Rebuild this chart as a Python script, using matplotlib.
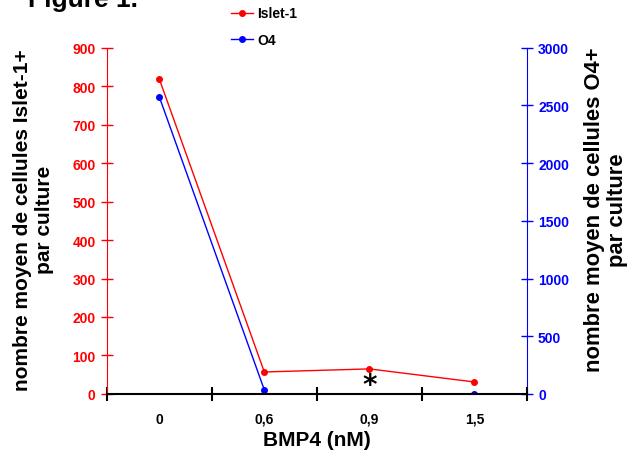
import numpy as np
import matplotlib.pyplot as plt
from matplotlib.ticker import FixedLocator, NullFormatter

plt.rcParams['font.family'] = ['Liberation Sans', 'DejaVu Sans']
plt.rcParams['font.weight'] = 'bold'

doses = ['0', '0,6', '0,9', '1,5']
islet = [819, 57, 65, 31]
o4 = [2575, 35, np.nan, 0]

fig = plt.figure(figsize=(6.28, 4.56), dpi=100)
ax = fig.add_axes([0.170, 0.134, 0.669, 0.759])
ax2 = ax.twinx()

xs = [i + 0.5 for i in range(len(doses))]
l1, = ax.plot(xs, islet, color='red', lw=1, marker='o', ms=4, label='Islet-1', zorder=5)
l2, = ax2.plot(xs, o4, color='blue', lw=1, marker='o', ms=4, label='O4', zorder=5)

ax.set_xlim(0, 4)
ax.set_ylim(0, 900)
ax2.set_ylim(0, 3000)
ax.set_yticks(range(0, 901, 100))
ax2.set_yticks(range(0, 3001, 500))

ax.xaxis.set_major_locator(FixedLocator([0, 1, 2, 3, 4]))
ax.xaxis.set_major_formatter(NullFormatter())
ax.xaxis.set_minor_locator(FixedLocator(xs))
ax.set_xticklabels(doses, minor=True)
ax.tick_params(axis='x', which='major', direction='inout', length=10, width=1.5, color='black')
ax.tick_params(axis='x', which='minor', length=0, pad=13, labelsize=10)

ax.tick_params(axis='y', direction='inout', length=9, width=1, colors='red', labelsize=10)
ax2.tick_params(axis='y', direction='inout', length=9, width=1, colors='blue', labelsize=10)

for a in (ax, ax2):
    a.spines['top'].set_visible(False)
    a.patch.set_visible(False)
ax.spines['left'].set_color('red')
ax.spines['right'].set_visible(False)
ax2.spines['left'].set_visible(False)
ax2.spines['right'].set_color('blue')
ax2.spines['bottom'].set_visible(False)
ax.spines['bottom'].set_color('black')
ax.spines['bottom'].set_linewidth(1.5)
ax.set_zorder(ax2.get_zorder() + 1)

ax.set_xlabel('BMP4 (nM)', fontsize=15, fontweight='bold', labelpad=3)
ax.set_ylabel('nombre moyen de cellules Islet-1+\npar culture', fontsize=15,
              fontweight='bold', linespacing=1.2)
ax.yaxis.set_label_coords(-0.125, 0.506)
ax2.set_ylabel('nombre moyen de cellules O4+\npar culture', fontsize=15.8,
               fontweight='bold', rotation=90, linespacing=1.15)
ax2.yaxis.set_label_coords(1.135, 0.535)

ax.text(2.5, 22, '*', ha='center', va='center', fontsize=20, fontweight='bold',
        family='DejaVu Sans')

fig.text(0.045, 1 - 7 / 456, 'Figure 1.', fontsize=19, fontweight='bold', va='baseline')

fig.legend(handles=[l1, l2], loc='upper left', bbox_to_anchor=(0.359, 0.996),
           frameon=False, fontsize=10, handlelength=1.6, labelspacing=0.9,
           handletextpad=0.3, borderaxespad=0)

fig.savefig('out.png', dpi=100)
